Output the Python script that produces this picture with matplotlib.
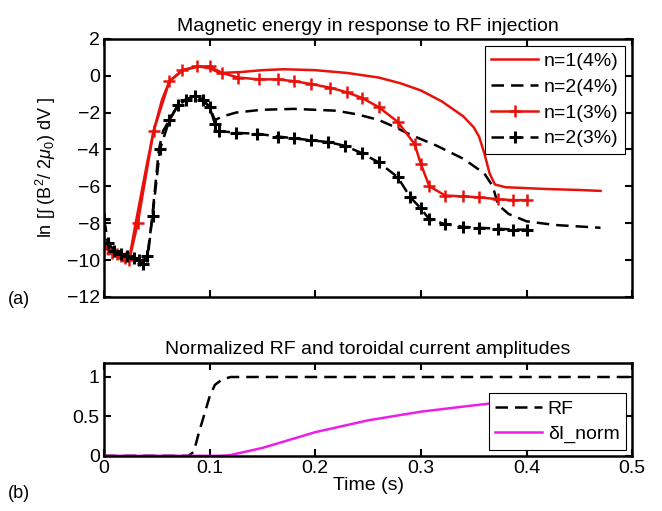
import numpy as np
import matplotlib
matplotlib.use('Agg')
import matplotlib.pyplot as plt

plt.rcParams['font.family'] = ['Liberation Sans', 'DejaVu Sans']
plt.rcParams['mathtext.fontset'] = 'custom'
plt.rcParams['mathtext.rm'] = 'Liberation Sans'
plt.rcParams['mathtext.it'] = 'Liberation Sans:italic'

# ── panel (a) data: ln of magnetic energy ─────────────────────────────────
t_n1_4 = [0.0, 0.005, 0.012, 0.02, 0.025, 0.03, 0.04, 0.047, 0.055, 0.062, 0.075,
          0.09, 0.1, 0.11, 0.13, 0.15, 0.17, 0.2, 0.23, 0.26, 0.28, 0.30, 0.32,
          0.34, 0.35, 0.355, 0.36, 0.365, 0.37, 0.38, 0.40, 0.42, 0.45, 0.47]
y_n1_4 = [-9.0, -9.5, -9.8, -10.1, -9.6, -8.0, -5.0, -3.0, -1.3, -0.3, 0.3,
          0.5, 0.4, 0.15, 0.2, 0.3, 0.35, 0.3, 0.15, -0.1, -0.4, -0.8, -1.4,
          -2.2, -2.8, -3.3, -4.2, -5.3, -5.9, -6.05, -6.1, -6.15, -6.2, -6.25]

t_n2_4 = [0.0, 0.004, 0.01, 0.02, 0.03, 0.037, 0.042, 0.046, 0.052, 0.056, 0.062,
          0.07, 0.077, 0.086, 0.093, 0.1, 0.105, 0.113, 0.125, 0.149, 0.18, 0.22,
          0.24, 0.26, 0.276, 0.29, 0.315, 0.34, 0.36, 0.368, 0.373, 0.383, 0.40,
          0.427, 0.47]
y_n2_4 = [-7.8, -9.1, -9.5, -9.8, -9.9, -10.1, -9.6, -7.5, -4.0, -3.0, -2.4,
          -1.6, -1.3, -1.1, -1.3, -1.7, -2.4, -2.2, -2.0, -1.85, -1.8, -1.9,
          -2.1, -2.4, -2.8, -3.2, -3.8, -4.5, -5.3, -6.0, -7.0, -7.5, -7.9,
          -8.1, -8.25]

t_n1_3 = [0.0, 0.004, 0.008, 0.012, 0.016, 0.02, 0.024, 0.032, 0.047, 0.062,
          0.074, 0.088, 0.1, 0.112, 0.127, 0.147, 0.165, 0.18, 0.196, 0.214, 0.23,
          0.244, 0.26, 0.278, 0.294, 0.30, 0.308, 0.323, 0.34, 0.355, 0.373,
          0.387, 0.40]
y_n1_3 = [-9.0, -9.4, -9.6, -9.7, -9.8, -9.9, -10.0, -8.0, -3.0, -0.3,
          0.3, 0.5, 0.5, 0.15, -0.1, -0.2, -0.2, -0.3, -0.45, -0.65, -0.9,
          -1.2, -1.7, -2.5, -3.7, -4.8, -6.0, -6.5, -6.55, -6.6, -6.7,
          -6.75, -6.75]

t_n2_3 = [0.0, 0.004, 0.01, 0.016, 0.022, 0.028, 0.033, 0.037, 0.041, 0.046,
          0.053, 0.062, 0.07, 0.078, 0.086, 0.094, 0.1, 0.105, 0.109, 0.125,
          0.145, 0.165, 0.18, 0.196, 0.212, 0.228, 0.244, 0.26, 0.278, 0.29,
          0.30, 0.308, 0.323, 0.34, 0.355, 0.373, 0.387, 0.40]
y_n2_3 = [-7.8, -9.1, -9.5, -9.7, -9.8, -9.9, -10.0, -10.2, -9.8, -7.6,
          -4.0, -2.4, -1.6, -1.3, -1.1, -1.3, -1.7, -2.6, -3.0, -3.1,
          -3.15, -3.3, -3.4, -3.5, -3.6, -3.8, -4.2, -4.7, -5.5, -6.6,
          -7.2, -7.8, -8.05, -8.2, -8.25, -8.3, -8.35, -8.35]

# ── panel (b) data: normalized amplitudes ─────────────────────────────────
t_rf = [0.0, 0.08, 0.085, 0.09, 0.1, 0.105, 0.112, 0.12, 0.5]
y_rf = [0.0, 0.0, 0.05, 0.3, 0.75, 0.9, 0.97, 1.0, 1.0]

t_di = [0.0, 0.11, 0.12, 0.15, 0.2, 0.25, 0.3, 0.35, 0.37, 0.4]
y_di = [0.0, 0.0, 0.01, 0.1, 0.3, 0.45, 0.56, 0.64, 0.67, 0.71]

FS = 14
DASH = (0, (5, 2.8))

fig = plt.figure(figsize=(6.62, 5.11), dpi=100)
ax1 = fig.add_axes([0.157, 0.419, 0.798, 0.505])
ax2 = fig.add_axes([0.157, 0.108, 0.798, 0.182])

LW = 1.8
ax1.plot(t_n1_4, y_n1_4, color='#e8120c', lw=LW, label='n=1(4%)')
ax1.plot(t_n2_4, y_n2_4, color='k', lw=LW, ls=DASH, label='n=2(4%)')
ax1.plot(t_n1_3, y_n1_3, color='#e8120c', lw=LW, marker='+', ms=9, mew=1.8,
         label='n=1(3%)')
ax1.plot(t_n2_3, y_n2_3, color='k', lw=LW, ls=DASH, marker='+', ms=9,
         mew=2.2, label='n=2(3%)')

ax1.set_xlim(0, 0.5)
ax1.set_ylim(-12, 2)
ax1.set_yticks(np.arange(-12, 3, 2))
ax1.set_xticks([0, 0.1, 0.2, 0.3, 0.4, 0.5])
ax1.set_xticklabels([])
ax1.set_ylabel(r'ln [$\int$ (B$^2$/ 2$\mu_0$) dV ]', fontsize=FS - 1, labelpad=6)
ax1.set_title('Magnetic energy in response to RF injection', fontsize=FS, pad=6)
leg1 = ax1.legend(loc='upper right', fontsize=FS, handlelength=2.4,
                  fancybox=False, edgecolor='k', framealpha=1,
                  borderaxespad=0.35, labelspacing=0.42, handletextpad=0.3,
                  borderpad=0.35)
leg1.get_frame().set_linewidth(0.8)

ax2.plot(t_rf, y_rf, color='k', lw=LW, ls=DASH, label='RF')
ax2.plot(t_di, y_di, color='#ee1ee8', lw=LW, label='δI_norm')
ax2.set_xlim(0, 0.5)
ax2.set_ylim(0, 1.18)
ax2.set_yticks([0, 0.5, 1])
ax2.set_yticklabels(['0', '0.5', '1'])
ax2.set_xticks([0, 0.1, 0.2, 0.3, 0.4, 0.5])
ax2.set_xticklabels(['0', '0.1', '0.2', '0.3', '0.4', '0.5'])
ax2.set_xlabel('Time (s)', fontsize=FS, labelpad=0)
ax2.set_title('Normalized RF and toroidal current amplitudes', fontsize=FS, pad=6)
leg2 = ax2.legend(loc='lower right', fontsize=FS, handlelength=2.4,
                  fancybox=False, edgecolor='k', framealpha=1,
                  borderaxespad=0.3, labelspacing=0.4, handletextpad=0.3,
                  borderpad=0.35)
leg2.get_frame().set_linewidth(0.8)

for ax in (ax1, ax2):
    for s in ax.spines.values():
        s.set_linewidth(1.8)
    ax.tick_params(direction='in', top=True, right=True, length=5, width=1.5,
                   labelsize=FS, pad=3)

fig.text(0.012, 0.405, '(a)', fontsize=FS - 1)
fig.text(0.012, 0.025, '(b)', fontsize=FS - 1)

fig.savefig('out.png', dpi=100)
